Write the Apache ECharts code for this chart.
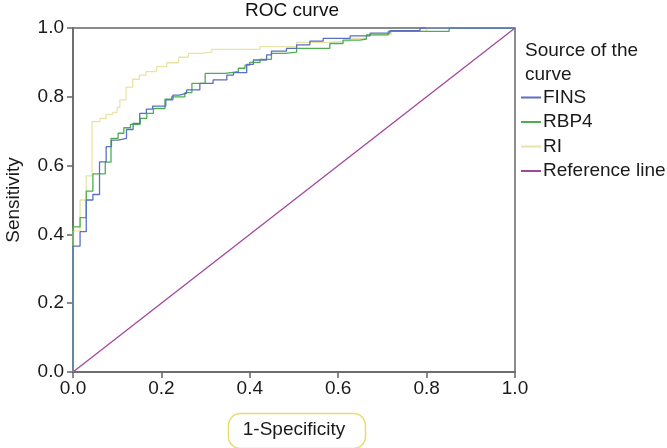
<!DOCTYPE html>
<html><head><meta charset="utf-8">
<script src="https://cdn.jsdelivr.net/npm/echarts@6/dist/echarts.min.js"></script>
<style>html,body{margin:0;padding:0;background:#fff}#c{width:667px;height:448px}</style>
</head><body><div id="c"></div>
<script>
const seriesNames = ['FINS', 'RBP4', 'RI', 'Reference line'];
const xTicks = [0, 0.2, 0.4, 0.6, 0.8, 1.0];
const yTicks = [0, 0.2, 0.4, 0.6, 0.8, 1.0];
// ROC points [1-specificity, sensitivity]
const fins = [[0,0],[0,0.366],[0.016,0.408],[0.030,0.50],[0.045,0.516],[0.060,0.611],[0.075,0.655],[0.087,0.674],[0.102,0.679],[0.121,0.705],[0.136,0.723],[0.151,0.752],[0.166,0.764],[0.180,0.773],[0.21,0.791],[0.226,0.805],[0.24,0.81],[0.257,0.82],[0.287,0.839],[0.317,0.849],[0.348,0.863],[0.363,0.870],[0.393,0.894],[0.408,0.907],[0.438,0.922],[0.449,0.933],[0.483,0.941],[0.506,0.951],[0.536,0.962],[0.566,0.970],[0.627,0.977],[0.672,0.985],[0.717,0.992],[0.785,1.0],[1,1]];
const rbp4 = [[0,0],[0,0.422],[0.016,0.449],[0.030,0.526],[0.045,0.576],[0.073,0.610],[0.086,0.679],[0.102,0.694],[0.115,0.71],[0.13,0.72],[0.152,0.737],[0.167,0.752],[0.182,0.766],[0.208,0.793],[0.223,0.80],[0.253,0.812],[0.269,0.839],[0.299,0.868],[0.344,0.873],[0.374,0.883],[0.389,0.892],[0.40,0.90],[0.423,0.909],[0.449,0.926],[0.48,0.93],[0.506,0.941],[0.581,0.955],[0.611,0.965],[0.649,0.968],[0.664,0.98],[0.713,0.99],[0.851,1.0],[1,1]];
const ri = [[0,0],[0,0.41],[0.016,0.50],[0.030,0.57],[0.043,0.728],[0.061,0.737],[0.075,0.749],[0.090,0.755],[0.100,0.769],[0.106,0.791],[0.120,0.828],[0.135,0.851],[0.150,0.863],[0.165,0.873],[0.189,0.888],[0.212,0.899],[0.239,0.915],[0.261,0.926],[0.287,0.93],[0.314,0.938],[0.423,0.946],[0.506,0.958],[0.570,0.962],[0.627,0.970],[0.664,0.981],[0.72,0.99],[0.80,1.0],[1,1]];
const refLine = [[0,0],[1,1]];
const colors = ['#5b6fc2', '#4cae4f', '#e9e3a6', '#a3479c'];

const chart = echarts.init(document.getElementById('c'), null, {renderer: 'canvas'});
const font = 'Liberation Sans, Arial, Helvetica, sans-serif';
const mk = (name, data, i, step) => ({
  name, type: 'line', data, step: step ? 'end' : false, symbol: 'none', silent: true,
  lineStyle: {color: colors[i], width: 1.3}, itemStyle: {color: colors[i]}, z: 10 - i
});
chart.setOption({
  animation: false,
  textStyle: {fontFamily: font},
  title: {text: 'ROC curve', left: 292, top: 1, padding: 0, textAlign: 'center',
    textStyle: {fontSize: 19, fontWeight: 'normal', color: '#111', fontFamily: font}},
  grid: {left: 73, right: 152, top: 28, bottom: 76, show: true, borderColor: '#666', borderWidth: 1.5,
    containLabel: false, outerBoundsMode: 'none'},
  xAxis: {type: 'value', min: 0, max: 1, interval: 0.2,
    axisLine: {show: true, lineStyle: {color: '#666', width: 1.5}},
    axisTick: {show: true, length: 6, lineStyle: {color: '#666', width: 1.5}},
    splitLine: {show: false},
    axisLabel: {fontSize: 19, color: '#1a1a1a', margin: 7, fontFamily: font,
      formatter: v => xTicks.includes(+v.toFixed(1)) ? v.toFixed(1) : ''}},
  yAxis: {type: 'value', min: 0, max: 1, interval: 0.2,
    name: 'Sensitivity', nameLocation: 'middle', nameGap: 50, nameRotate: 90,
    nameTextStyle: {fontSize: 19, color: '#1a1a1a', fontFamily: font},
    axisLine: {show: true, lineStyle: {color: '#666', width: 1.5}},
    axisTick: {show: true, length: 6, lineStyle: {color: '#666', width: 1.5}},
    splitLine: {show: false},
    axisLabel: {fontSize: 19, color: '#1a1a1a', margin: 9, fontFamily: font,
      formatter: v => yTicks.includes(+v.toFixed(1)) ? v.toFixed(1) : ''}},
  legend: {orient: 'vertical', left: 521, top: 88, padding: 0, itemGap: 5.5, itemWidth: 20, itemHeight: 2,
    icon: 'rect', data: seriesNames, selectedMode: false,
    textStyle: {fontSize: 19, lineHeight: 19, color: '#1a1a1a', padding: [0,0,0,-3], fontFamily: font}},
  graphic: [
    {type: 'text', left: 525, top: 39, style: {text: 'Source of the\ncurve', font: '19px ' + font, fill: '#1a1a1a', lineHeight: 24}},
    {type: 'rect', left: 226, top: 411, shape: {width: 137, height: 35, r: 12},
      style: {fill: 'none', stroke: '#e7dc6e', lineWidth: 1.5}},
    {type: 'text', x: 294, y: 430, style: {text: '1-Specificity', font: '19px ' + font, fill: '#1a1a1a', textAlign: 'center', textVerticalAlign: 'middle'}}
  ],
  series: [mk(seriesNames[0], fins, 0, true), mk(seriesNames[1], rbp4, 1, true), mk(seriesNames[2], ri, 2, true), mk(seriesNames[3], refLine, 3, false)]
});
</script></body></html>
